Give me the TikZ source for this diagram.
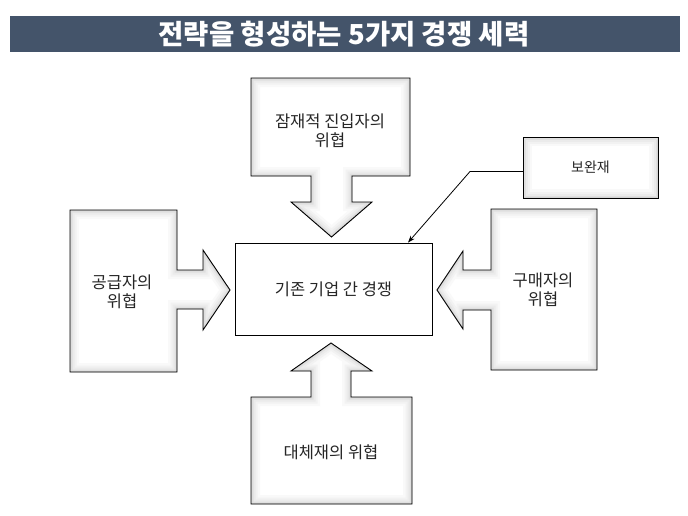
\documentclass[tikz,border=0pt]{standalone}
\usepackage{fontspec}
\setmainfont{Noto Sans CJK KR}
\usetikzlibrary{arrows.meta}
\definecolor{barblue}{RGB}{68,84,106}
\tikzset{
  outline/.style={draw=black, line width=0.9pt},
  lbl/.style={align=center, font=\fontsize{16.5}{18.5}\selectfont, text=black!85, inner sep=0pt},
  titletext/.style={font=\fontsize{27.5}{30}\selectfont\bfseries, text=white},
}
\newcommand\bevelshape[1]{%
  \begin{scope}
    \clip #1;
    \fill[white] #1;
    \draw[line width=18pt, gray!5] #1;
    \draw[line width=13pt, gray!10] #1;
    \draw[line width=9pt, gray!16] #1;
    \draw[line width=5pt, gray!24] #1;
    \draw[line width=2pt, gray!34] #1;
  \end{scope}
  \draw[outline] #1;}
\begin{document}
\begin{tikzpicture}[x=1pt, y=-1pt]
\useasboundingbox (0,0) rectangle (688,515);
\fill[white] (0,0) rectangle (688,515);
% title bar
\fill[barblue] (10,16) rectangle (680,52);
\node[titletext] (title) at (344,34) {전략을 형성하는 5가지 경쟁 세력};
% top: potential entrants
\bevelshape{(251,78) -- (410,78) -- (410,176) -- (352,176) -- (352,202) -- (372,202) -- (331.5,237) -- (291,202) -- (311,202) -- (311,176) -- (251,176) -- cycle}
\node[lbl] (entrants) at (330,131) {잠재적 진입자의\\위협};
% left: suppliers
\bevelshape{(70,210) -- (177,210) -- (177,270) -- (203,270) -- (203,250) -- (230,290) -- (203,330) -- (203,309) -- (177,309) -- (177,372) -- (70,372) -- cycle}
\node[lbl] (suppliers) at (122,292) {공급자의\\위협};
% right: buyers
\bevelshape{(491,209) -- (597,209) -- (597,370) -- (491,370) -- (491,310) -- (463,310) -- (463,329) -- (437,290) -- (463,251) -- (463,270) -- (491,270) -- cycle}
\node[lbl] (buyers) at (543,290) {구매자의\\위협};
% bottom: substitutes
\bevelshape{(251,397) -- (311,397) -- (311,371) -- (291,371) -- (331,343) -- (372,371) -- (351,371) -- (351,397) -- (412,397) -- (412,504) -- (251,504) -- cycle}
\node[lbl] (substitutes) at (331,452) {대체재의 위협};
% centre
\node[outline, fill=white, minimum width=197pt, minimum height=92pt, lbl] (rivalry) at (333.5,289) {기존 기업 간 경쟁};
% complements
\bevelshape{(523,137) -- (658,137) -- (658,198) -- (523,198) -- cycle}
\node[lbl, font=\fontsize{14}{16}\selectfont, minimum width=135pt, minimum height=61pt] (comp) at (590.5,167.5) {보완재};
\coordinate (bend) at (470,171.5);
\coordinate (tipx) at (408,0);
\draw[line width=0.8pt, -{Stealth[length=7pt,width=5pt]}] ([yshift=-4pt]comp.west) -- (bend) -- (tipx |- rivalry.north);
\end{tikzpicture}
\end{document}
